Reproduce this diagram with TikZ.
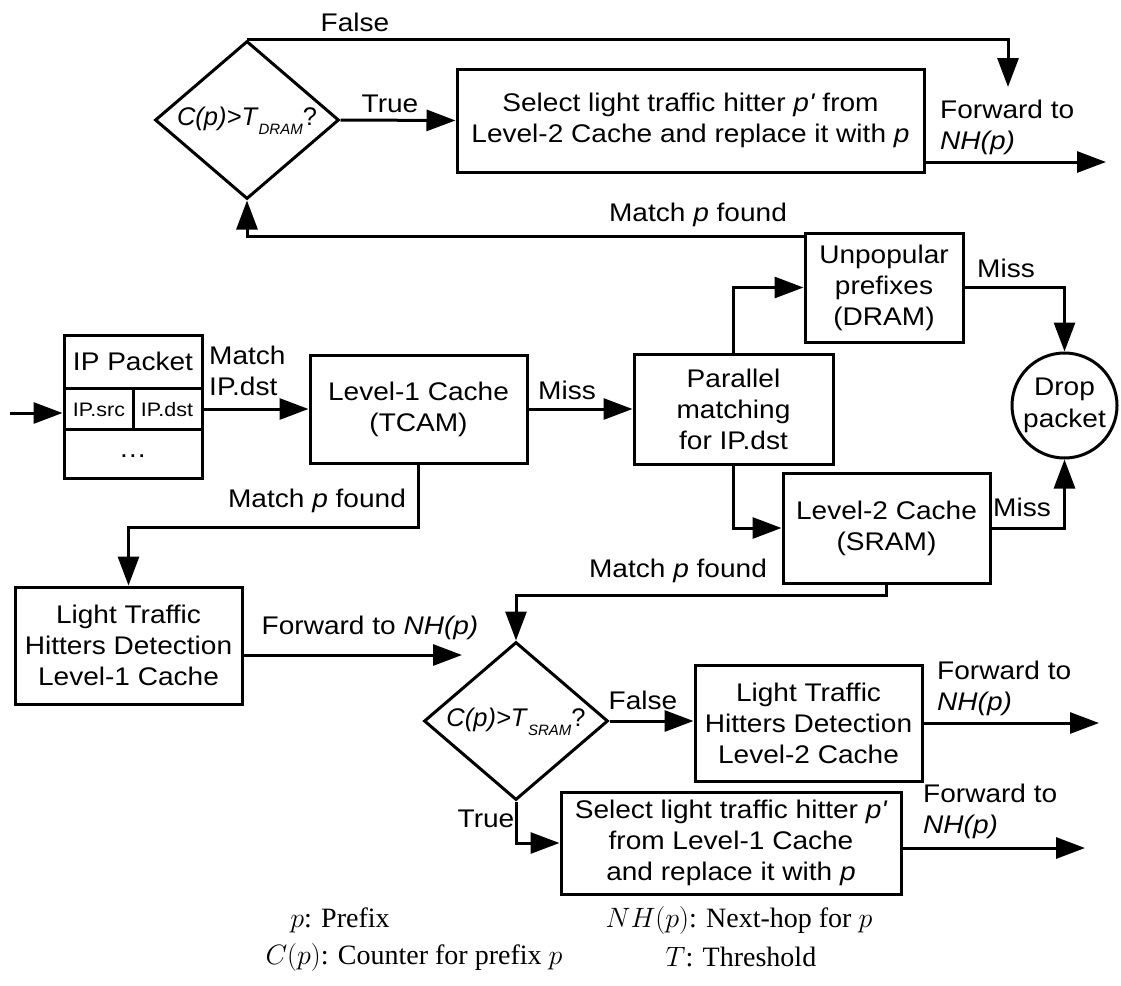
\RequirePackage{fix-cm}
\documentclass[tikz,border=0pt]{standalone}
\usepackage{fontspec}
\setmainfont[FakeStretch=1.1]{Liberation Sans}
\newfontfamily\plainsans{Liberation Sans}
\newfontfamily\legendfont{Liberation Serif}
\usetikzlibrary{shapes.geometric,arrows.meta,calc}

% threshold test text: C(p)>T with a lowered subscript
\newcommand{\thrtest}[1]{{\plainsans\textit{C(p)>T}\raisebox{-9pt}{\fontsize{15}{15}\selectfont\textit{#1}}?}}

\begin{document}
\begin{tikzpicture}[x=1pt,y=-1pt,
  every node/.style={font=\fontsize{25.5}{31}\selectfont, inner sep=0pt},
  box/.style={draw, line width=3pt, rectangle, align=center},
  decision/.style={draw, line width=3pt, diamond, minimum width=184pt, minimum height=158pt},
  arr/.style={line width=3pt, -{Triangle[length=29pt,width=21pt]}},
  line/.style={line width=3pt},
  lbl/.style={align=left},
  small/.style={font=\fontsize{19.5}{22}\selectfont},
  legend/.style={font=\legendfont\fontsize{28}{32}\selectfont}]

\useasboundingbox (0,0) rectangle (1121,985);

% ---------- DRAM path (top) ----------
\node[decision] (d1) at (247,120) {};
\node (d1t) at (247,121) {\thrtest{DRAM}};
\node[box, minimum width=467pt, minimum height=103pt] (sel2) at (690.5,120.5)
  {Select light traffic hitter \textit{p\textquotesingle} from\\Level-2 Cache and replace it with \textit{p}};

% ---------- packet and caches ----------
\node[box, minimum width=138pt, minimum height=143pt] (ippk) at (133,406.5) {};
\draw[line] (ippk.west |- 0,388) -- (ippk.east |- 0,388);
\draw[line] (ippk.west |- 0,429) -- (ippk.east |- 0,429);
\draw[line] (133,388) -- (133,429);
\node (ipname) at (133,361) {IP Packet};
\node[small] (ipsrc) at (99,410) {IP.src};
\node[small] (ipdst) at (167,410) {IP.dst};
\node (ipdots) at (133,456) {\ldots};

\node[box, minimum width=217pt, minimum height=108pt] (l1) at (418.5,409) {Level-1 Cache\\(TCAM)};
\node[box, minimum width=199pt, minimum height=110pt] (par) at (733.5,409) {Parallel\\matching\\for IP.dst};
\node[box, minimum width=158pt, minimum height=109pt] (unp) at (884,287.5) {Unpopular\\prefixes\\(DRAM)};
\node[box, minimum width=207pt, minimum height=110pt] (l2) at (886.5,528) {Level-2 Cache\\(SRAM)};
\node[draw, line width=3pt, circle, minimum size=105pt, align=center,
      font=\fontsize{25.5}{32}\selectfont] (drop) at (1064.5,405.5) {Drop\\packet};

% ---------- SRAM path (bottom) ----------
\node[box, minimum width=227pt, minimum height=117pt] (lt1) at (128.5,645.5) {Light Traffic\\Hitters Detection\\Level-1 Cache};
\node[decision] (d2) at (516,721) {};
\node (d2t) at (516,722) {\thrtest{SRAM}};
\node[box, minimum width=227pt, minimum height=116pt] (lt2) at (808.5,723) {Light Traffic\\Hitters Detection\\Level-2 Cache};
\node[box, minimum width=340pt, minimum height=102pt] (sel1) at (731,843)
  {Select light traffic hitter \textit{p\textquotesingle}\\from Level-1 Cache\\and replace it with \textit{p}};

% ---------- free ends ----------
\coordinate (inpt) at (10,413);
\coordinate (f1end) at (1008,87);
\coordinate (out1) at (1106,162);
\coordinate (fwd1) at (462,655);
\coordinate (out2) at (1099,723);
\coordinate (out3) at (1085,848);

% ---------- connectors ----------
\draw[arr] (inpt) -- (inpt -| ippk.west);
\draw[arr] (ippk.east |- l1) -- (l1.west);
\draw[arr] (l1.east) -- (par.west);
\draw[arr] (par.north) |- (unp.west);
\draw[arr] (par.south) |- (l2.west);
\draw[arr] (unp.east) -| (drop.north);
\draw[arr] (l2.east) -| (drop.south);
\draw[arr] ($(unp.north west)+(0,5)$) -| (d1.south);
\draw[arr] (d1.east) -- (sel2.west);
\draw[arr] (d1.north) -| (f1end);
\draw[arr] (sel2.east |- out1) -- (out1);
\draw[arr] (l1.south) -- ++(0,63) -| (lt1.north);
\draw[arr] (lt1.east |- fwd1) -- (fwd1);
\draw[arr] (l2.south) -- ++(0,11) -| (d2.north);
\draw[arr] (d2.east) -- (d2.east -| lt2.west);
\draw[arr] (d2.south) |- (sel1.west);
\draw[arr] (lt2.east) -- (out2);
\draw[arr] (sel1.east |- out3) -- (out3);

% ---------- connector labels ----------
\node (lbfalse1) at (355,22) {False};
\node (lbtrue1) at (390,104) {True};
\node[lbl, anchor=west] (lbfwd1) at (940,127) {Forward to\\\textit{NH(p)}};
\node (lbmatch1) at (698,215) {Match \textit{p} found};
\node[lbl, anchor=west] (lbmatchip) at (209,371) {Match\\IP.dst};
\node (lbmiss1) at (567,390) {Miss};
\node (lbmiss2) at (1006,268) {Miss};
\node (lbmiss3) at (1022,507) {Miss};
\node (lbmatch2) at (317,501) {Match \textit{p} found};
\node (lbfwd2) at (370,628) {Forward to \textit{NH(p)}};
\node (lbmatch3) at (678,571) {Match \textit{p} found};
\node (lbfalse2) at (643,700) {False};
\node[lbl, anchor=west] (lbfwd3) at (937,688) {Forward to\\\textit{NH(p)}};
\node (lbtrue2) at (486,819) {True};
\node[lbl, anchor=west] (lbfwd4) at (923,811) {Forward to\\\textit{NH(p)}};

% ---------- legend ----------
\node[legend] (lg1) at (340,920) {$p$: Prefix};
\node[legend] (lg2) at (739,920) {$NH(p)$: Next-hop for $p$};
\node[legend] (lg3) at (414,957) {$C(p)$: Counter for prefix $p$};
\node[legend] (lg4) at (741,957) {$T$: Threshold};
\end{tikzpicture}
\end{document}
